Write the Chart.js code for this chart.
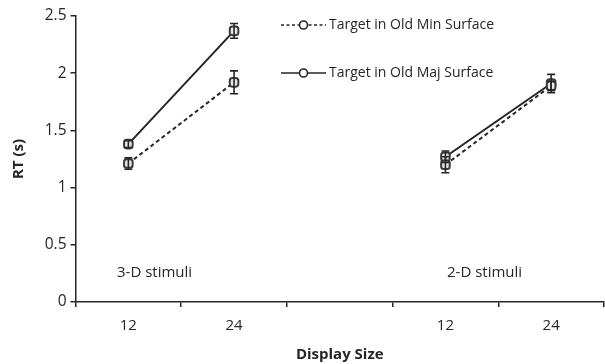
<!DOCTYPE html>
<html>
<head>
<meta charset="utf-8">
<script src="https://cdn.jsdelivr.net/npm/chart.js@4/dist/chart.umd.min.js"></script>
<style>
html,body{margin:0;padding:0;background:#fff;}
#wrap{width:605px;height:364px;position:relative;}
</style>
</head>
<body>
<div id="wrap"><canvas id="c" width="605" height="364"></canvas></div>
<script>
const categories = ['12', '24', '', '12', '24'];
const minSurfaceRT = [1.21, 1.92, null, 1.20, 1.89];
const minSurfaceErr = [0.05, 0.10, null, 0.07, 0.04];
const majSurfaceRT = [1.38, 2.37, null, 1.27, 1.91];
const majSurfaceErr = [0.03, 0.065, null, 0.05, 0.08];
const yTicks = [0, 0.5, 1, 1.5, 2, 2.5];
const seriesNames = ['Target in Old Min Surface', 'Target in Old Maj Surface'];
const groupLabels = ['3-D stimuli', '2-D stimuli'];

const FONT = "'Open Sans', 'Noto Sans', sans-serif";
const INK = '#262626';

const stretchRight = {
  id: 'stretchRight',
  afterLayout(chart) {
    const x = chart.scales.x;
    const R = 604;
    x.right = R;
    x.width = R - x.left;
    chart.chartArea.right = R;
    chart.chartArea.width = R - chart.chartArea.left;
    x.configure();
  }
};

const errorBars = {
  id: 'errorBars',
  afterDatasetsDraw(chart) {
    const ctx = chart.ctx;
    const ys = chart.scales.y;
    chart.data.datasets.forEach((ds, di) => {
      const meta = chart.getDatasetMeta(di);
      ds.data.forEach((v, i) => {
        const e = ds.errors[i];
        if (v == null || e == null) return;
        const x = meta.data[i].x;
        const y1 = ys.getPixelForValue(v + e);
        const y2 = ys.getPixelForValue(v - e);
        ctx.save();
        ctx.strokeStyle = INK;
        ctx.lineWidth = 1.6;
        ctx.beginPath();
        ctx.moveTo(x, y1); ctx.lineTo(x, y2);
        ctx.moveTo(x - 4, y1); ctx.lineTo(x + 4, y1);
        ctx.moveTo(x - 4, y2); ctx.lineTo(x + 4, y2);
        ctx.stroke();
        ctx.restore();
      });
    });
  }
};

const annotations = {
  id: 'annotations',
  afterDraw(chart) {
    const ctx = chart.ctx;
    ctx.save();
    ctx.fillStyle = INK;
    ctx.font = "15px " + FONT;
    ctx.textBaseline = 'middle';
    ctx.textAlign = 'left';
    ctx.fillText(groupLabels[0], 117, 273);
    ctx.fillText(groupLabels[1], 447, 273);
    const rows = [{y: 25, dash: [3, 2.5]}, {y: 73, dash: []}];
    ctx.font = "14px " + FONT;
    rows.forEach((r, i) => {
      ctx.strokeStyle = INK;
      ctx.lineWidth = 1.6;
      ctx.setLineDash(r.dash);
      ctx.beginPath();
      ctx.moveTo(281, r.y); ctx.lineTo(326, r.y);
      ctx.stroke();
      ctx.setLineDash([]);
      ctx.beginPath();
      ctx.arc(303.5, r.y, 4, 0, Math.PI * 2);
      ctx.fillStyle = '#fff';
      ctx.fill();
      ctx.lineWidth = 1.6;
      ctx.stroke();
      ctx.fillStyle = INK;
      ctx.fillText(seriesNames[i], 329, r.y);
    });
    ctx.restore();
  }
};

new Chart(document.getElementById('c'), {
  type: 'line',
  data: {
    labels: categories,
    datasets: [
      {
        label: seriesNames[0],
        data: minSurfaceRT,
        errors: minSurfaceErr,
        borderColor: INK,
        borderWidth: 2,
        borderDash: [4, 3],
        pointStyle: 'rectRounded',
        pointRadius: 5,
        pointBorderWidth: 2,
        pointBackgroundColor: '#e6e6e6',
        pointBorderColor: '#3a3a3a',
        spanGaps: false,
        tension: 0
      },
      {
        label: seriesNames[1],
        data: majSurfaceRT,
        errors: majSurfaceErr,
        borderColor: INK,
        borderWidth: 2,
        pointStyle: 'rectRounded',
        pointRadius: 5,
        pointBorderWidth: 2,
        pointBackgroundColor: '#e6e6e6',
        pointBorderColor: '#3a3a3a',
        spanGaps: false,
        tension: 0
      }
    ]
  },
  options: {
    responsive: false,
    animation: false,
    devicePixelRatio: 1,
    layout: {padding: {left: 0, right: 0, top: 16, bottom: 0}},
    plugins: {legend: {display: false}, tooltip: {enabled: false}},
    scales: {
      x: {
        type: 'category',
        offset: true,
        grid: {
          offset: true, drawOnChartArea: false, drawTicks: true, tickLength: 5, lineWidth: 1.5,
          color: c => (c.index >= categories.length ? 'rgba(0,0,0,0)' : INK)
        },
        border: {color: INK, width: 1.5},
        ticks: {color: INK, font: {family: FONT, size: 15}, padding: 10, maxRotation: 0, autoSkip: false},
        title: {display: true, text: 'Display Size', color: INK, font: {family: FONT, size: 15, weight: 'bold'}, padding: {top: 9, bottom: 0}},
        afterFit(s) { s.height = 62; }
      },
      y: {
        min: 0, max: 2.5,
        afterBuildTicks(s) { s.ticks = yTicks.map(v => ({value: v})); },
        grid: {drawOnChartArea: false, drawTicks: true, tickLength: 5, color: INK, lineWidth: 1.5},
        border: {color: INK, width: 1.5},
        ticks: {color: INK, font: {family: FONT, size: 15.5}, padding: 4, callback: v => String(v)},
        title: {display: true, text: 'RT (s)', color: INK, font: {family: FONT, size: 15, weight: 'bold'}, padding: {top: 10, bottom: 8}},
        afterFit(s) { s.width = 75.5; }
      }
    }
  },
  plugins: [stretchRight, errorBars, annotations]
});
</script>
</body>
</html>
